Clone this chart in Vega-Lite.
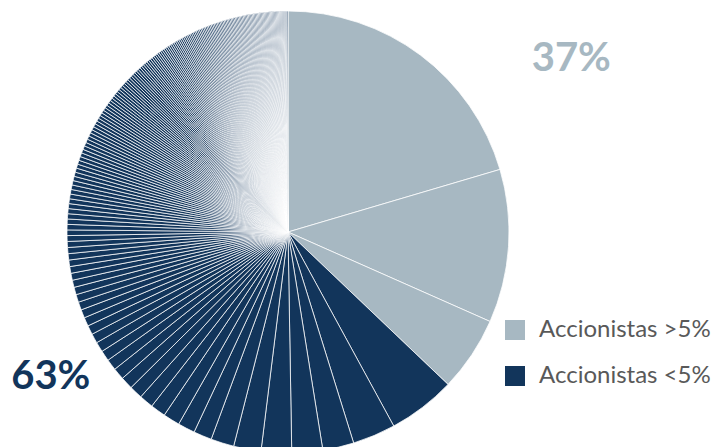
{
  "$schema": "https://vega.github.io/schema/vega-lite/v6.json",
  "width": 576,
  "height": 464,
  "autosize": {"type": "none"},
  "padding": {"left": 0, "top": 0, "right": 148, "bottom": 0},
  "background": "white",
  "config": {"view": {"stroke": null}},
  "layer": [
    {
      "data": {"values": [
        {"g": "Accionistas >5%", "v": 73.5},
        {"g": "Accionistas >5%", "v": 40.3},
        {"g": "Accionistas >5%", "v": 19.7},
        {"g": "Accionistas <5%", "v": 17.8},
        {"g": "Accionistas <5%", "v": 11.3},
        {"g": "Accionistas <5%", "v": 8.2},
        {"g": "Accionistas <5%", "v": 8.1},
        {"g": "Accionistas <5%", "v": 8.0},
        {"g": "Accionistas <5%", "v": 7.2},
        {"g": "Accionistas <5%", "v": 6.1},
        {"g": "Accionistas <5%", "v": 4.8},
        {"g": "Accionistas <5%", "v": 4.5},
        {"g": "Accionistas <5%", "v": 4.4},
        {"g": "Accionistas <5%", "v": 4.00},
        {"g": "Accionistas <5%", "v": 3.72},
        {"g": "Accionistas <5%", "v": 3.48},
        {"g": "Accionistas <5%", "v": 3.27},
        {"g": "Accionistas <5%", "v": 3.09},
        {"g": "Accionistas <5%", "v": 2.92},
        {"g": "Accionistas <5%", "v": 2.77},
        {"g": "Accionistas <5%", "v": 2.63},
        {"g": "Accionistas <5%", "v": 2.51},
        {"g": "Accionistas <5%", "v": 2.40},
        {"g": "Accionistas <5%", "v": 2.30},
        {"g": "Accionistas <5%", "v": 2.20},
        {"g": "Accionistas <5%", "v": 2.12},
        {"g": "Accionistas <5%", "v": 2.04},
        {"g": "Accionistas <5%", "v": 1.96},
        {"g": "Accionistas <5%", "v": 1.89},
        {"g": "Accionistas <5%", "v": 1.83},
        {"g": "Accionistas <5%", "v": 1.77},
        {"g": "Accionistas <5%", "v": 1.71},
        {"g": "Accionistas <5%", "v": 1.66},
        {"g": "Accionistas <5%", "v": 1.61},
        {"g": "Accionistas <5%", "v": 1.57},
        {"g": "Accionistas <5%", "v": 1.52},
        {"g": "Accionistas <5%", "v": 1.48},
        {"g": "Accionistas <5%", "v": 1.44},
        {"g": "Accionistas <5%", "v": 1.40},
        {"g": "Accionistas <5%", "v": 1.37},
        {"g": "Accionistas <5%", "v": 1.33},
        {"g": "Accionistas <5%", "v": 1.30},
        {"g": "Accionistas <5%", "v": 1.27},
        {"g": "Accionistas <5%", "v": 1.24},
        {"g": "Accionistas <5%", "v": 1.21},
        {"g": "Accionistas <5%", "v": 1.19},
        {"g": "Accionistas <5%", "v": 1.16},
        {"g": "Accionistas <5%", "v": 1.14},
        {"g": "Accionistas <5%", "v": 1.11},
        {"g": "Accionistas <5%", "v": 1.09},
        {"g": "Accionistas <5%", "v": 1.07},
        {"g": "Accionistas <5%", "v": 1.05},
        {"g": "Accionistas <5%", "v": 1.03},
        {"g": "Accionistas <5%", "v": 1.01},
        {"g": "Accionistas <5%", "v": 0.99},
        {"g": "Accionistas <5%", "v": 0.97},
        {"g": "Accionistas <5%", "v": 0.96},
        {"g": "Accionistas <5%", "v": 0.94},
        {"g": "Accionistas <5%", "v": 0.92},
        {"g": "Accionistas <5%", "v": 0.91},
        {"g": "Accionistas <5%", "v": 0.89},
        {"g": "Accionistas <5%", "v": 0.88},
        {"g": "Accionistas <5%", "v": 0.86},
        {"g": "Accionistas <5%", "v": 0.85},
        {"g": "Accionistas <5%", "v": 0.84},
        {"g": "Accionistas <5%", "v": 0.82},
        {"g": "Accionistas <5%", "v": 0.81},
        {"g": "Accionistas <5%", "v": 0.80},
        {"g": "Accionistas <5%", "v": 0.79},
        {"g": "Accionistas <5%", "v": 0.78},
        {"g": "Accionistas <5%", "v": 0.77},
        {"g": "Accionistas <5%", "v": 0.76},
        {"g": "Accionistas <5%", "v": 0.74},
        {"g": "Accionistas <5%", "v": 0.73},
        {"g": "Accionistas <5%", "v": 0.72},
        {"g": "Accionistas <5%", "v": 0.72},
        {"g": "Accionistas <5%", "v": 0.71},
        {"g": "Accionistas <5%", "v": 0.70},
        {"g": "Accionistas <5%", "v": 0.69},
        {"g": "Accionistas <5%", "v": 0.68},
        {"g": "Accionistas <5%", "v": 0.67},
        {"g": "Accionistas <5%", "v": 0.66},
        {"g": "Accionistas <5%", "v": 0.65},
        {"g": "Accionistas <5%", "v": 0.65},
        {"g": "Accionistas <5%", "v": 0.64},
        {"g": "Accionistas <5%", "v": 0.63},
        {"g": "Accionistas <5%", "v": 0.62},
        {"g": "Accionistas <5%", "v": 0.62},
        {"g": "Accionistas <5%", "v": 0.61},
        {"g": "Accionistas <5%", "v": 0.60},
        {"g": "Accionistas <5%", "v": 0.60},
        {"g": "Accionistas <5%", "v": 0.59},
        {"g": "Accionistas <5%", "v": 0.58},
        {"g": "Accionistas <5%", "v": 0.58},
        {"g": "Accionistas <5%", "v": 0.57},
        {"g": "Accionistas <5%", "v": 0.57},
        {"g": "Accionistas <5%", "v": 0.56},
        {"g": "Accionistas <5%", "v": 0.55},
        {"g": "Accionistas <5%", "v": 0.55},
        {"g": "Accionistas <5%", "v": 0.54},
        {"g": "Accionistas <5%", "v": 0.54},
        {"g": "Accionistas <5%", "v": 0.53},
        {"g": "Accionistas <5%", "v": 0.53},
        {"g": "Accionistas <5%", "v": 0.52},
        {"g": "Accionistas <5%", "v": 0.52},
        {"g": "Accionistas <5%", "v": 0.51},
        {"g": "Accionistas <5%", "v": 0.51},
        {"g": "Accionistas <5%", "v": 0.50},
        {"g": "Accionistas <5%", "v": 0.50},
        {"g": "Accionistas <5%", "v": 0.49},
        {"g": "Accionistas <5%", "v": 0.49},
        {"g": "Accionistas <5%", "v": 0.48},
        {"g": "Accionistas <5%", "v": 0.48},
        {"g": "Accionistas <5%", "v": 0.48},
        {"g": "Accionistas <5%", "v": 0.47},
        {"g": "Accionistas <5%", "v": 0.47},
        {"g": "Accionistas <5%", "v": 0.46},
        {"g": "Accionistas <5%", "v": 0.46},
        {"g": "Accionistas <5%", "v": 0.46},
        {"g": "Accionistas <5%", "v": 0.45},
        {"g": "Accionistas <5%", "v": 0.45},
        {"g": "Accionistas <5%", "v": 0.44},
        {"g": "Accionistas <5%", "v": 0.44},
        {"g": "Accionistas <5%", "v": 0.44},
        {"g": "Accionistas <5%", "v": 0.43},
        {"g": "Accionistas <5%", "v": 0.43},
        {"g": "Accionistas <5%", "v": 0.43},
        {"g": "Accionistas <5%", "v": 0.42},
        {"g": "Accionistas <5%", "v": 0.42},
        {"g": "Accionistas <5%", "v": 0.42},
        {"g": "Accionistas <5%", "v": 0.41},
        {"g": "Accionistas <5%", "v": 0.41},
        {"g": "Accionistas <5%", "v": 0.41},
        {"g": "Accionistas <5%", "v": 0.40},
        {"g": "Accionistas <5%", "v": 0.40},
        {"g": "Accionistas <5%", "v": 0.40},
        {"g": "Accionistas <5%", "v": 0.40},
        {"g": "Accionistas <5%", "v": 0.39},
        {"g": "Accionistas <5%", "v": 0.39},
        {"g": "Accionistas <5%", "v": 0.39},
        {"g": "Accionistas <5%", "v": 0.38},
        {"g": "Accionistas <5%", "v": 0.38},
        {"g": "Accionistas <5%", "v": 0.38},
        {"g": "Accionistas <5%", "v": 0.38},
        {"g": "Accionistas <5%", "v": 0.37},
        {"g": "Accionistas <5%", "v": 0.37},
        {"g": "Accionistas <5%", "v": 0.37},
        {"g": "Accionistas <5%", "v": 0.37},
        {"g": "Accionistas <5%", "v": 0.36},
        {"g": "Accionistas <5%", "v": 0.36},
        {"g": "Accionistas <5%", "v": 0.36},
        {"g": "Accionistas <5%", "v": 0.36},
        {"g": "Accionistas <5%", "v": 0.35},
        {"g": "Accionistas <5%", "v": 0.35},
        {"g": "Accionistas <5%", "v": 0.35},
        {"g": "Accionistas <5%", "v": 0.35},
        {"g": "Accionistas <5%", "v": 0.35},
        {"g": "Accionistas <5%", "v": 0.34},
        {"g": "Accionistas <5%", "v": 0.34},
        {"g": "Accionistas <5%", "v": 0.34},
        {"g": "Accionistas <5%", "v": 0.34},
        {"g": "Accionistas <5%", "v": 0.33},
        {"g": "Accionistas <5%", "v": 0.33},
        {"g": "Accionistas <5%", "v": 0.33},
        {"g": "Accionistas <5%", "v": 0.33},
        {"g": "Accionistas <5%", "v": 0.33},
        {"g": "Accionistas <5%", "v": 0.32},
        {"g": "Accionistas <5%", "v": 0.32},
        {"g": "Accionistas <5%", "v": 0.32},
        {"g": "Accionistas <5%", "v": 0.32},
        {"g": "Accionistas <5%", "v": 0.32},
        {"g": "Accionistas <5%", "v": 0.31},
        {"g": "Accionistas <5%", "v": 0.31},
        {"g": "Accionistas <5%", "v": 0.31},
        {"g": "Accionistas <5%", "v": 0.31},
        {"g": "Accionistas <5%", "v": 0.31},
        {"g": "Accionistas <5%", "v": 0.31},
        {"g": "Accionistas <5%", "v": 0.30},
        {"g": "Accionistas <5%", "v": 0.30},
        {"g": "Accionistas <5%", "v": 0.30},
        {"g": "Accionistas <5%", "v": 0.30},
        {"g": "Accionistas <5%", "v": 0.30},
        {"g": "Accionistas <5%", "v": 0.30},
        {"g": "Accionistas <5%", "v": 0.29},
        {"g": "Accionistas <5%", "v": 0.29},
        {"g": "Accionistas <5%", "v": 0.29},
        {"g": "Accionistas <5%", "v": 0.29},
        {"g": "Accionistas <5%", "v": 0.28},
        {"g": "Accionistas <5%", "v": 0.28},
        {"g": "Accionistas <5%", "v": 0.28},
        {"g": "Accionistas <5%", "v": 0.27},
        {"g": "Accionistas <5%", "v": 0.27},
        {"g": "Accionistas <5%", "v": 0.27},
        {"g": "Accionistas <5%", "v": 0.27}
      ]},
      "mark": {"type": "arc", "radius": 221, "stroke": "white", "strokeWidth": 0.75},
      "encoding": {
        "theta": {"field": "v", "type": "quantitative", "stack": true},
        "order": {"field": "v", "sort": "descending"},
        "color": {
          "field": "g",
          "type": "nominal",
          "scale": {"domain": ["Accionistas >5%", "Accionistas <5%"], "range": ["#a7b8c2", "#12355b"]},
          "legend": {
            "title": null,
            "orient": "none",
            "legendX": 503,
            "legendY": 318,
            "padding": 0,
            "symbolType": "square",
            "symbolSize": 400,
            "symbolStrokeWidth": 0,
            "labelFont": "Lato",
            "labelFontSize": 24,
            "labelColor": "#595959",
            "labelOffset": 12,
            "labelLimit": 400,
            "rowPadding": 22
          }
        }
      }
    },
    {
      "data": {"values": [
        {"g": "Accionistas >5%", "v": 37, "label": "37%"},
        {"g": "Accionistas <5%", "v": 63, "label": "63%"}
      ]},
      "mark": {"type": "text", "font": "Lato", "fontWeight": "bold", "fontSize": 40},
      "encoding": {
        "theta": {"field": "v", "type": "quantitative", "stack": true, "scale": {"range": [-0.14, 6.143]}},
        "radius": {"field": "v", "type": "quantitative", "scale": {"type": "linear", "zero": false, "domain": [37, 63], "range": [332, 278]}},
        "order": {"field": "v", "sort": "ascending"},
        "text": {"field": "label"},
        "color": {"field": "g", "type": "nominal", "legend": null}
      }
    }
  ],
  "resolve": {"scale": {"theta": "independent", "radius": "independent"}}
}
